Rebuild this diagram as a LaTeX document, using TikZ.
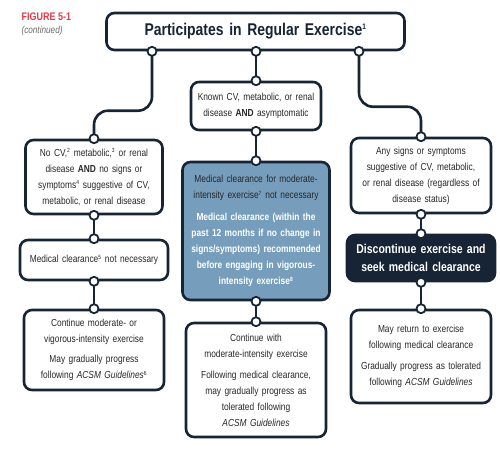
\documentclass[tikz,border=0pt]{standalone}
\usepackage{fontspec}
\setmainfont[FakeStretch=0.82]{Liberation Sans}
\usetikzlibrary{backgrounds}
\definecolor{navy}{RGB}{22,36,54}
\definecolor{txt}{RGB}{40,40,40}
\definecolor{steel}{RGB}{118,158,188}
\definecolor{figred}{RGB}{226,58,74}
\definecolor{figgray}{RGB}{105,105,105}
\newcommand\supn[1]{\textsuperscript{\fontsize{6}{6}\selectfont #1}}
\begin{document}
\begin{tikzpicture}[x=1pt,y=-1pt,
  box/.style={draw=navy,line width=2.6pt,rounded corners=8pt,fill=white,align=center,inner sep=3pt,text=txt,font=\fontsize{10.2}{16}\selectfont},
  dot/.style={circle,draw=navy,fill=white,line width=1.8pt,minimum size=9pt,inner sep=0pt},
  conn/.style={draw=navy,line width=2.6pt},
]
\useasboundingbox (0,0) rectangle (500,451);

\node[anchor=west,text=figred,font=\bfseries\fontsize{11}{12}\selectfont] (fig) at (18,17) {FIGURE 5-1};
\node[anchor=west,text=figgray,font=\itshape\fontsize{10}{11}\selectfont] (cont) at (18,31) {(continued)};

\node[box,minimum width=298pt,minimum height=37pt,text width=290pt,text=navy,font=\bfseries\fontsize{17}{19}\selectfont] (top) at (255.5,31.5) {Participates in Regular Exercise\textsuperscript{\fontsize{8}{8}\selectfont 1}};

\node[box,minimum width=135pt,minimum height=74pt,text width=131pt] (l1) at (94,177) {No CV,\supn{2} metabolic,\supn{3} or renal\\ disease \textbf{AND} no signs or\\ symptoms\supn{4} suggestive of CV,\\ metabolic, or renal disease};
\node[box,minimum width=148pt,minimum height=40pt,text width=142pt] (l2) at (94,260) {Medical clearance\supn{5} not necessary};
\node[box,minimum width=138pt,minimum height=80pt,text width=134pt] (l3) at (94,350) {Continue moderate- or\\ vigorous-intensity exercise\\[4pt] May gradually progress\\ following \textit{ACSM Guidelines}\supn{6}};

\node[box,minimum width=128pt,minimum height=48pt,text width=124pt] (m1) at (256,106) {Known CV, metabolic, or renal\\ disease \textbf{AND} asymptomatic};
\node[box,fill=steel,minimum width=145pt,minimum height=138pt,text width=141pt,text=black!85] (m2) at (256,231) {Medical clearance for moderate-\\ intensity exercise\supn{7} not necessary\\[6pt] {\bfseries\color{white}Medical clearance (within the\\ past 12 months if no change in\\ signs/symptoms) recommended\\ before engaging in vigorous-\\ intensity exercise\supn{8}}};
\node[box,minimum width=138pt,minimum height=114pt,text width=134pt] (m3) at (256,380) {Continue with\\ moderate-intensity exercise\\[5pt] Following medical clearance,\\ may gradually progress as\\ tolerated following\\ \textit{ACSM Guidelines}};

\node[box,minimum width=138pt,minimum height=75pt,text width=134pt] (r1) at (421,175.5) {Any signs or symptoms\\ suggestive of CV, metabolic,\\ or renal disease (regardless of\\ disease status)};
\node[box,fill=navy,text=white,minimum width=146pt,minimum height=46pt,text width=142pt,font=\bfseries\fontsize{12.8}{17.5}\selectfont] (r2) at (421,258) {Discontinue exercise and\\ seek medical clearance};
\node[box,minimum width=138pt,minimum height=93pt,text width=134pt] (r3) at (421,356.5) {May return to exercise\\ following medical clearance\\[5pt] Gradually progress as tolerated\\ following \textit{ACSM Guidelines}};

\node[dot] (t1) at ([xshift=-103.5pt]top.south) {};
\node[dot] (t2) at (top.south -| m1.north) {};
\node[dot] (t3) at ([xshift=103.5pt]top.south) {};
\node[dot] (l1n) at (l1.north) {};
\node[dot] (l1s) at (l1.south) {};
\node[dot] (l2n) at (l2.north) {};
\node[dot] (l2s) at (l2.south) {};
\node[dot] (l3n) at (l3.north) {};
\node[dot] (m1n) at (m1.north) {};
\node[dot] (m1s) at (m1.south) {};
\node[dot] (m2n) at (m2.north) {};
\node[dot] (m2s) at (m2.south) {};
\node[dot] (m3n) at (m3.north) {};
\node[dot] (r1n) at (r1.north) {};
\node[dot] (r1s) at (r1.south) {};
\node[dot] (r2n) at (r2.north) {};
\node[dot] (r2s) at (r2.south) {};
\node[dot] (r3n) at (r3.north) {};

\begin{scope}[on background layer]
\draw[conn,rounded corners=14pt] (t1.center) |- ([yshift=28pt]l1n.center) -- (l1n.center);
\draw[conn,rounded corners=14pt] (t3.center) |- ([yshift=30pt]r1n.center) -- (r1n.center);
\draw[conn] (t2.center) -- (m1n.center);
\draw[conn] (l1s.center) -- (l2n.center);
\draw[conn] (l2s.center) -- (l3n.center);
\draw[conn] (m1s.center) -- (m2n.center);
\draw[conn] (m2s.center) -- (m3n.center);
\draw[conn] (r1s.center) -- (r2n.center);
\draw[conn] (r2s.center) -- (r3n.center);
\end{scope}
\end{tikzpicture}
\end{document}
